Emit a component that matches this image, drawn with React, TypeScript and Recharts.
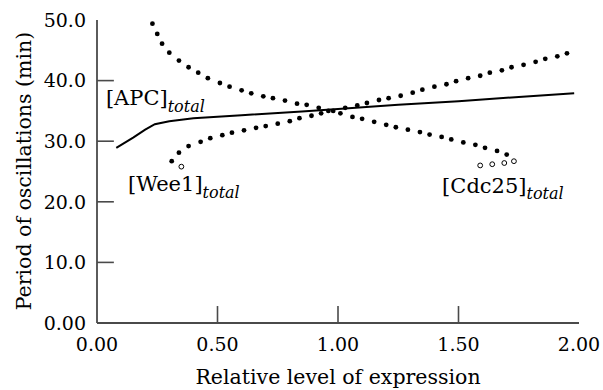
import React from 'react';
import {
  ComposedChart,
  Line,
  XAxis,
  YAxis,
  ReferenceDot,
} from 'recharts';

// solid curve, [APC]total
const apc = [
  { x: 0.08, y: 28.9 }, { x: 0.15, y: 30.6 }, { x: 0.2, y: 31.9 }, { x: 0.24, y: 32.8 },
  { x: 0.3, y: 33.3 }, { x: 0.4, y: 33.8 }, { x: 0.6, y: 34.3 }, { x: 0.85, y: 34.9 },
  { x: 1.0, y: 35.3 }, { x: 1.25, y: 36.0 }, { x: 1.5, y: 36.6 }, { x: 1.75, y: 37.3 },
  { x: 1.98, y: 37.9 },
];

// dotted curve going up, [Wee1]total
const wee1 = [
  { x: 0.31, y: 26.7 }, { x: 0.34, y: 28.1 }, { x: 0.38, y: 29.2 }, { x: 0.43, y: 29.9 },
  { x: 0.47, y: 30.5 }, { x: 0.52, y: 31.0 }, { x: 0.56, y: 31.4 }, { x: 0.61, y: 31.8 },
  { x: 0.66, y: 32.2 }, { x: 0.70, y: 32.5 }, { x: 0.75, y: 32.9 }, { x: 0.80, y: 33.3 },
  { x: 0.84, y: 33.8 }, { x: 0.89, y: 34.2 }, { x: 0.93, y: 34.6 }, { x: 0.98, y: 35.0 },
  { x: 1.03, y: 35.5 }, { x: 1.08, y: 35.9 }, { x: 1.12, y: 36.3 }, { x: 1.17, y: 36.8 },
  { x: 1.21, y: 37.1 }, { x: 1.26, y: 37.5 }, { x: 1.31, y: 38.0 }, { x: 1.35, y: 38.5 },
  { x: 1.40, y: 39.0 }, { x: 1.45, y: 39.4 }, { x: 1.49, y: 39.9 }, { x: 1.54, y: 40.4 },
  { x: 1.59, y: 40.8 }, { x: 1.63, y: 41.3 }, { x: 1.68, y: 41.7 }, { x: 1.72, y: 42.2 },
  { x: 1.77, y: 42.6 }, { x: 1.82, y: 43.1 }, { x: 1.86, y: 43.6 }, { x: 1.91, y: 44.0 },
  { x: 1.95, y: 44.5 },
];
const wee1Open = [{ x: 0.35, y: 25.8 }];

// dotted curve going down, [Cdc25]total
const cdc25 = [
  { x: 0.23, y: 49.4 }, { x: 0.25, y: 47.7 }, { x: 0.27, y: 46.1 }, { x: 0.30, y: 44.6 },
  { x: 0.34, y: 43.3 }, { x: 0.38, y: 42.2 }, { x: 0.42, y: 41.3 }, { x: 0.46, y: 40.4 },
  { x: 0.51, y: 39.6 }, { x: 0.55, y: 39.0 }, { x: 0.60, y: 38.4 }, { x: 0.64, y: 37.9 },
  { x: 0.69, y: 37.4 }, { x: 0.73, y: 37.1 }, { x: 0.78, y: 36.7 }, { x: 0.83, y: 36.2 },
  { x: 0.87, y: 36.0 }, { x: 0.92, y: 35.5 }, { x: 0.96, y: 35.0 }, { x: 1.01, y: 34.6 },
  { x: 1.06, y: 34.0 }, { x: 1.10, y: 33.7 }, { x: 1.15, y: 33.2 }, { x: 1.20, y: 32.7 },
  { x: 1.24, y: 32.3 }, { x: 1.29, y: 31.9 }, { x: 1.34, y: 31.5 }, { x: 1.38, y: 31.1 },
  { x: 1.43, y: 30.7 }, { x: 1.47, y: 30.3 }, { x: 1.52, y: 29.8 }, { x: 1.57, y: 29.4 },
  { x: 1.61, y: 28.9 }, { x: 1.66, y: 28.4 }, { x: 1.70, y: 27.8 },
];
const cdc25Open = [
  { x: 1.59, y: 26.0 }, { x: 1.64, y: 26.2 }, { x: 1.69, y: 26.4 }, { x: 1.73, y: 26.7 },
];

const xTicks = [0, 0.5, 1, 1.5, 2];
const yTicks = [0, 10, 20, 30, 40, 50];

// inside tick marks as short two-point segments (length in axis units, ~17px)
const TICK_DX = 0.07;
const TICK_DY = 2.8;
const yTickSegs = yTicks.slice(1, -1).map((v) => [{ x: 0, y: v }, { x: TICK_DX, y: v }]);
const xTickSegs = xTicks.slice(1, -1).map((v) => [{ x: v, y: 0 }, { x: v, y: TICK_DY }]);

const FONT = '"DejaVu Serif", serif';
const AXIS = '#4a4a4a';
const W = 603;
const H = 390;
const PLOT_LEFT = 97;

const YTick = (props: any) => {
  const { y, payload } = props;
  const v = payload.value;
  return (
    <text x={86} y={y} dy="0.36em" textAnchor="end" fontFamily={FONT} fontSize={19} fill="#000">
      {v === 0 ? '0.00' : v.toFixed(1)}
    </text>
  );
};

const XTick = (props: any) => {
  const { x, payload } = props;
  return (
    <text x={x} y={351} textAnchor="middle" fontFamily={FONT} fontSize={19} fill="#000">
      {payload.value.toFixed(2)}
    </text>
  );
};

const annot = (name: string) => (props: any) => {
  const { x, y } = props.viewBox;
  return (
    <text x={x} y={y} fontFamily={FONT} fontSize={21} fill="#000">
      <tspan>[{name}]</tspan>
      <tspan fontStyle="italic" fontSize={16} dy={6.5}>total</tspan>
    </text>
  );
};

const openDot = (p: any) => (
  <circle key={`o-${p.index}`} cx={p.cx} cy={p.cy} r={2.4} fill="#fff" stroke="#000" strokeWidth={1} />
);
const solidDot = { r: 2.4, fill: '#000', stroke: 'none' };
const frameLine = { stroke: AXIS, strokeWidth: 1.8 };

export default function App() {
  return (
    <div style={{ position: 'absolute', left: 0, top: 0, background: '#fff' }}>
      <ComposedChart width={W} height={H} margin={{ top: 20, right: 24, left: 0, bottom: 0 }}>
        <XAxis
          type="number"
          dataKey="x"
          domain={[0, 2]}
          ticks={xTicks}
          tick={XTick}
          tickLine={false}
          axisLine={frameLine}
          height={67}
          label={{
            content: () => (
              <text x={338} y={384} textAnchor="middle" fontFamily={FONT} fontSize={20.5} fill="#000">
                Relative level of expression
              </text>
            ),
          }}
        />
        <XAxis
          xAxisId="top"
          orientation="top"
          type="number"
          dataKey="x"
          domain={[0, 2]}
          tick={false}
          tickLine={false}
          axisLine={frameLine}
          height={0}
        />
        <YAxis
          type="number"
          dataKey="y"
          domain={[0, 50]}
          ticks={yTicks}
          tick={YTick}
          tickLine={false}
          axisLine={frameLine}
          width={PLOT_LEFT}
          label={{
            content: () => (
              <text
                x={24}
                y={171}
                transform="rotate(-90 24 171)"
                dy="0.36em"
                textAnchor="middle"
                fontFamily={FONT}
                fontSize={20.5}
                fill="#000"
              >
                Period of oscillations (min)
              </text>
            ),
          }}
        />
        <YAxis
          yAxisId="right"
          orientation="right"
          type="number"
          dataKey="y"
          domain={[0, 50]}
          tick={false}
          tickLine={false}
          axisLine={frameLine}
          width={0}
        />
        {yTickSegs.map((seg, i) => (
          <Line key={`yt-${i}`} data={seg} dataKey="y" type="linear" stroke={AXIS} strokeWidth={1.6} dot={false} activeDot={false} isAnimationActive={false} />
        ))}
        {xTickSegs.map((seg, i) => (
          <Line key={`xt-${i}`} data={seg} dataKey="y" type="linear" stroke={AXIS} strokeWidth={1.6} dot={false} activeDot={false} isAnimationActive={false} />
        ))}
        <Line data={apc} dataKey="y" type="linear" stroke="#000" strokeWidth={2} dot={false} isAnimationActive={false} />
        <Line data={wee1} dataKey="y" stroke="none" dot={solidDot} activeDot={false} isAnimationActive={false} />
        <Line data={cdc25} dataKey="y" stroke="none" dot={solidDot} activeDot={false} isAnimationActive={false} />
        <Line data={wee1Open} dataKey="y" stroke="none" dot={openDot} activeDot={false} isAnimationActive={false} />
        <Line data={cdc25Open} dataKey="y" stroke="none" dot={openDot} activeDot={false} isAnimationActive={false} />
        <ReferenceDot x={0.037} y={35.9} r={0} fill="none" stroke="none" label={annot('APC')} />
        <ReferenceDot x={0.129} y={21.7} r={0} fill="none" stroke="none" label={annot('Wee1')} />
        <ReferenceDot x={1.432} y={21.5} r={0} fill="none" stroke="none" label={annot('Cdc25')} />
      </ComposedChart>
    </div>
  );
}
